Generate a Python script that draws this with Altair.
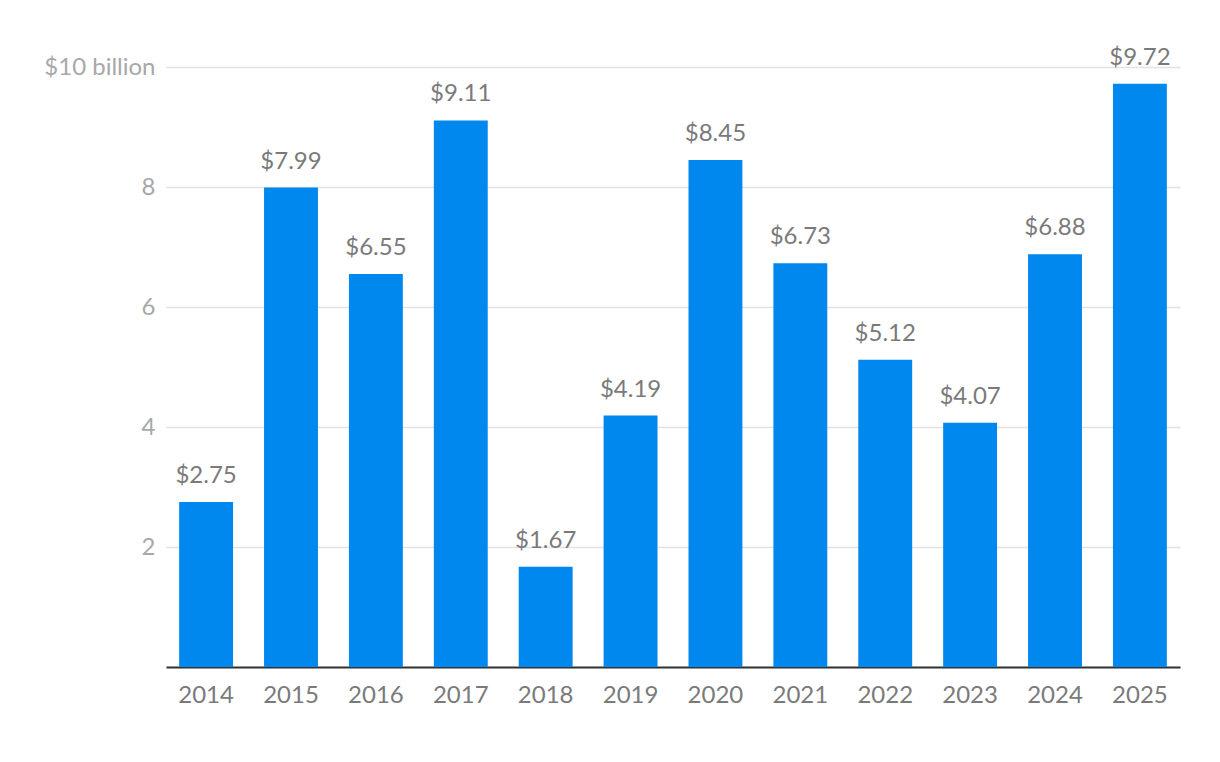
import altair as alt
import pandas as pd

years = ["2014", "2015", "2016", "2017", "2018", "2019", "2020", "2021", "2022", "2023", "2024", "2025"]
values = [2.75, 7.99, 6.55, 9.11, 1.67, 4.19, 8.45, 6.73, 5.12, 4.07, 6.88, 9.72]
labels = ["$" + f"{v:.2f}" for v in values]

df = pd.DataFrame({"year": years, "value": values, "label": labels})

FONT = "Lato, sans-serif"

x = alt.X("year:N", sort=years, title=None,
          scale=alt.Scale(paddingInner=0.365, paddingOuter=0.155),
          axis=alt.Axis(labelAngle=0, ticks=False, domain=True, domainColor="#333333",
                        domainWidth=2, labelFont=FONT, labelFontSize=24,
                        labelColor="#7a7a7a", labelPadding=16, grid=False))
y = alt.Y("value:Q", title=None,
          scale=alt.Scale(domain=[0, 10], nice=False),
          axis=alt.Axis(values=[0, 2, 4, 6, 8, 10], ticks=False, domain=False,
                        labelExpr="datum.value == 10 ? '$10 billion' : (datum.value == 0 ? '' : format(datum.value, 'd'))",
                        labelFont=FONT, labelFontSize=24, labelColor="#a8a8a8",
                        labelPadding=11, gridColor="#e2e2e2", gridWidth=1.5))

bars = alt.Chart(df).mark_bar(color="#0088ee").encode(x=x, y=y)
text = alt.Chart(df).mark_text(baseline="bottom", dy=-14, font=FONT, fontSize=24,
                               color="#7a7a7a").encode(x=alt.X("year:N", sort=years),
                                                       y="value:Q", text="label:N")

chart = (bars + text).properties(
    width=1014, height=600,
    autosize=alt.AutoSizeParams(type="none"),
    padding={"left": 158, "top": 59, "right": 30, "bottom": 80},
).configure_view(stroke=None).configure_axisY(gridDash=[])

chart.save("out.html", embed_options={"renderer": "svg", "actions": False})
